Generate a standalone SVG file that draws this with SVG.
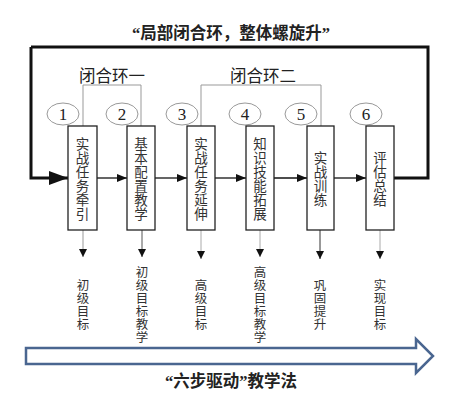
<svg xmlns="http://www.w3.org/2000/svg" width="463" height="400" viewBox="0 0 463 400">
<style>
.t{font-family:"Liberation Serif","Noto Sans CJK SC",serif;fill:#222}
.box{fill:#fff;stroke:#222;stroke-width:1.3}
.circ{fill:#fff;stroke:#999;stroke-width:1}
.g{stroke:#999;stroke-width:1;fill:none}
.bt{font-family:"Noto Sans CJK SC",sans-serif;font-size:13.5px;fill:#333;writing-mode:vertical-rl;letter-spacing:0.5px}
.lt{font-family:"Noto Sans CJK SC",sans-serif;font-size:12.5px;fill:#333;writing-mode:vertical-rl;letter-spacing:0.5px}
.num{font-family:"Liberation Serif",serif;font-size:17px;fill:#222;text-anchor:middle}
</style>
<defs>
<marker id="ah" markerWidth="10" markerHeight="8" refX="10" refY="4" orient="auto" markerUnits="userSpaceOnUse"><path d="M0,0 L10,4 L0,8 Z" fill="#111"/></marker>
<marker id="ahb" markerWidth="19" markerHeight="14" refX="19" refY="7" orient="auto" markerUnits="userSpaceOnUse"><path d="M0,0 L19,7 L0,14 Z" fill="#111"/></marker>
<marker id="ad" markerWidth="8" markerHeight="8" refX="8" refY="4" orient="auto" markerUnits="userSpaceOnUse"><path d="M0,0 L8,4 L0,8 Z" fill="#111"/></marker>
</defs>
<text class="t" x="231" y="39" font-size="16.5" font-weight="bold" text-anchor="middle">“局部闭合环，整体螺旋升”</text>
<text class="t" x="112" y="82" font-size="16.5" text-anchor="middle">闭合环一</text>
<text class="t" x="263" y="82" font-size="16.5" text-anchor="middle">闭合环二</text>
<g id="connectors">
<path d="M31,47 L428,47 L428,178 L394,178" fill="none" stroke="#111" stroke-width="3"/>
<path d="M31,47 L31,178 L68,178" fill="none" stroke="#111" stroke-width="3" marker-end="url(#ahb)"/>
<path class="g" d="M83,126 L83,85 L141,85 L141,126"/>
<path class="g" d="M201,126 L201,85 L321,85 L321,126"/>
<line x1="97" y1="178" x2="127" y2="178" stroke="#111" stroke-width="1.3" marker-end="url(#ah)"/>
<line x1="155" y1="178" x2="187" y2="178" stroke="#111" stroke-width="1.3" marker-end="url(#ah)"/>
<line x1="215" y1="178" x2="246" y2="178" stroke="#111" stroke-width="1.3" marker-end="url(#ah)"/>
<line x1="274" y1="178" x2="307" y2="178" stroke="#111" stroke-width="1.3" marker-end="url(#ah)"/>
<line x1="334" y1="178" x2="366" y2="178" stroke="#111" stroke-width="1.3" marker-end="url(#ah)"/>
<line x1="83" y1="230" x2="83" y2="257" stroke="#999" stroke-width="1" marker-end="url(#ad)"/>
<line x1="142" y1="230" x2="142" y2="257" stroke="#555" stroke-width="1" marker-end="url(#ad)"/>
<line x1="201" y1="230" x2="201" y2="259" stroke="#aaa" stroke-width="1" marker-end="url(#ad)"/>
<line x1="260" y1="230" x2="260" y2="257" stroke="#aaa" stroke-width="1" marker-end="url(#ad)"/>
<line x1="320" y1="230" x2="320" y2="259" stroke="#333" stroke-width="1" marker-end="url(#ad)"/>
<line x1="380" y1="230" x2="380" y2="259" stroke="#aaa" stroke-width="1" marker-end="url(#ad)"/>
</g>
<g id="n1"><ellipse class="circ" cx="63" cy="114" rx="16" ry="11"/><text class="num" x="63" y="120">1</text>
<rect class="box" x="68" y="126" width="29" height="104"/>
<text class="bt" x="82.5" y="137">实战任务牵引</text>
<text class="lt" x="83" y="279">初级目标</text></g>
<g id="n2"><ellipse class="circ" cx="122" cy="114" rx="16" ry="11"/><text class="num" x="122" y="120">2</text>
<rect class="box" x="127" y="126" width="28" height="104"/>
<text class="bt" x="141" y="137">基本配置教学</text>
<text class="lt" x="142" y="266">初级目标教学</text></g>
<g id="n3"><ellipse class="circ" cx="182" cy="114" rx="16" ry="11"/><text class="num" x="182" y="120">3</text>
<rect class="box" x="187" y="126" width="28" height="104"/>
<text class="bt" x="201" y="137">实战任务延伸</text>
<text class="lt" x="201" y="279">高级目标</text></g>
<g id="n4"><ellipse class="circ" cx="245" cy="114" rx="16" ry="11"/><text class="num" x="245" y="120">4</text>
<rect class="box" x="246" y="126" width="28" height="104"/>
<text class="bt" x="260" y="137">知识技能拓展</text>
<text class="lt" x="260" y="266">高级目标教学</text></g>
<g id="n5"><ellipse class="circ" cx="301" cy="114" rx="16" ry="11"/><text class="num" x="301" y="120">5</text>
<rect class="box" x="307" y="126" width="27" height="104"/>
<text class="bt" x="320.5" y="151">实战训练</text>
<text class="lt" x="320" y="279">巩固提升</text></g>
<g id="n6"><ellipse class="circ" cx="366" cy="114" rx="16" ry="11"/><text class="num" x="366" y="120">6</text>
<rect class="box" x="366" y="126" width="28" height="104"/>
<text class="bt" x="380" y="151">评估总结</text>
<text class="lt" x="380" y="279">实现目标</text></g>
<g id="bigarrow"><path d="M26,348 L416,348 L416,339 L433,356 L416,373 L416,364 L26,364 Z" fill="#fff" stroke="#4a6690" stroke-width="2.5" stroke-linejoin="miter"/></g>
<text class="t" x="231" y="387" font-size="16.5" font-weight="bold" text-anchor="middle">“六步驱动”教学法</text>
</svg>
